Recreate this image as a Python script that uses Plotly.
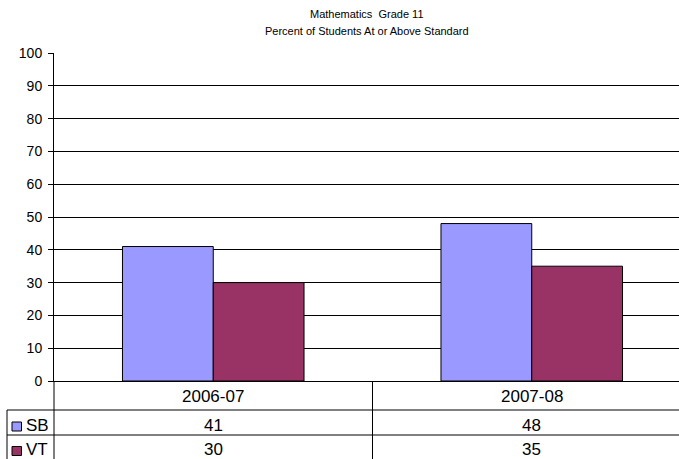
import plotly.graph_objects as go

categories = ["2006-07", "2007-08"]
series_names = ["SB", "VT"]
sb_values = [41, 48]
vt_values = [30, 35]
series_values = [sb_values, vt_values]
series_colors = ["#9999FF", "#993366"]
y_ticks = list(range(0, 101, 10))
title_lines = ["Mathematics  Grade 11", "Percent of Students At or Above Standard"]

W, H = 679, 459
L, T, B, R = 54, 53, 78, 0
plot_w = W - L - R
plot_h = H - T - B
cat_px = 318.5
FONT = "Liberation Sans, Arial, sans-serif"
TABLE_FS = 17


def px_x(X):
    return (X - L) / plot_w


def px_y(Y):
    return (H - B - Y) / plot_h


fig = go.Figure()
for name, vals, col in zip(series_names, series_values, series_colors):
    fig.add_bar(x=categories, y=vals, name=name, hoverinfo="skip",
                marker=dict(color=col, line=dict(color="black", width=1)))

fig.update_layout(
    width=W, height=H, margin=dict(l=L, r=R, t=T, b=B, pad=0),
    barmode="group", bargap=0.43, bargroupgap=0, showlegend=False,
    plot_bgcolor="white", paper_bgcolor="white",
    font=dict(family=FONT, color="black", size=14),
)
fig.update_xaxes(type="category", range=[-0.5, -0.5 + plot_w / cat_px],
                 showticklabels=False, showline=True, linecolor="black",
                 linewidth=1, ticks="", showgrid=False, zeroline=False)
fig.update_yaxes(range=[0, 100], tickvals=y_ticks, showgrid=True,
                 gridcolor="black", gridwidth=1, showline=True,
                 linecolor="black", linewidth=1, ticks="outside", ticklen=5,
                 tickcolor="black", tickfont=dict(size=14, family=FONT),
                 ticklabelstandoff=3, zeroline=False)

shapes = []
line = dict(color="black", width=1)
# horizontal row lines
for Y in [410, 435]:
    shapes.append(dict(type="line", xref="paper", yref="paper",
                       x0=px_x(7), x1=px_x(W), y0=px_y(Y), y1=px_y(Y), line=line))
# vertical lines
shapes.append(dict(type="line", xref="paper", yref="paper",
                   x0=px_x(7), x1=px_x(7), y0=px_y(410), y1=px_y(H), line=line))
for i in range(len(categories) + 1):
    X = L + i * cat_px
    if X <= W:
        shapes.append(dict(type="line", xref="paper", yref="paper",
                           x0=px_x(X), x1=px_x(X), y0=px_y(381), y1=px_y(H), line=line))

annotations = []
# title
for k, t in enumerate(title_lines):
    annotations.append(dict(text=t, xref="paper", yref="paper", x=px_x(366.5),
                            y=px_y(14 + 17 * k), showarrow=False,
                            font=dict(size=11, family=FONT), xanchor="center",
                            yanchor="middle"))
# category header row
for c in categories:
    annotations.append(dict(text=c, xref="x", yref="paper", x=c,
                            y=px_y(396.5), showarrow=False,
                            font=dict(size=TABLE_FS, family=FONT), yanchor="middle"))
# data rows with legend keys
row_centers = [425, 449.5]
for r, (name, vals, col) in enumerate(zip(series_names, series_values, series_colors)):
    Yc = row_centers[r]
    shapes.append(dict(type="rect", xref="paper", yref="paper",
                       x0=px_x(12), x1=px_x(21.5), y0=px_y(Yc - 3), y1=px_y(Yc + 6),
                       fillcolor=col, line=dict(color="black", width=1)))
    annotations.append(dict(text=name, xref="paper", yref="paper", x=px_x(24),
                            y=px_y(Yc), showarrow=False, xanchor="left",
                            yanchor="middle", font=dict(size=TABLE_FS, family=FONT)))
    for c, v in zip(categories, vals):
        annotations.append(dict(text=str(v), xref="x", yref="paper", x=c,
                                y=px_y(Yc), showarrow=False, yanchor="middle",
                                font=dict(size=TABLE_FS, family=FONT)))

fig.update_layout(shapes=shapes, annotations=annotations)
fig.write_html("out.html", config={"displayModeBar": False},
               post_script="document.body.style.margin='0';document.body.style.padding='0';")
